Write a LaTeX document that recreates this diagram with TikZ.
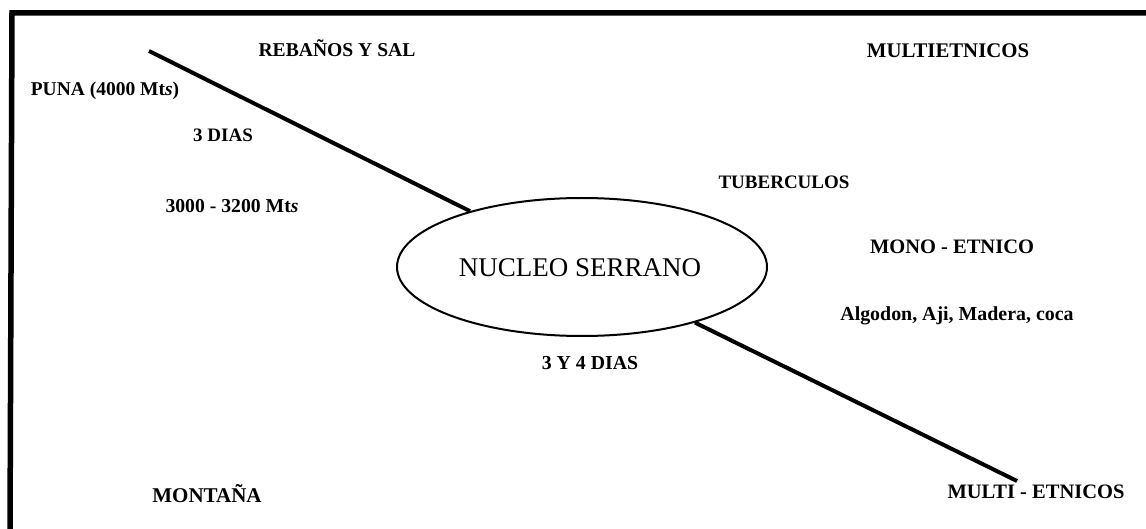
\documentclass[tikz,border=0pt]{standalone}
\usepackage{fontspec}
\setmainfont{Liberation Serif}
\usetikzlibrary{shapes.geometric}
\begin{document}
\begin{tikzpicture}[x=1pt,y=-1pt,
  lbl/.style={anchor=base,inner sep=0pt,font=\fontsize{#1}{#1}\selectfont\bfseries},
  lbl/.default=19,
  route/.style={line width=4pt},
  frame/.style={line width=5.5pt}]
\useasboundingbox (0,0) rectangle (1146,529);
\fill[white] (0,0) rectangle (1146,529);
% frame (top and left edges)
\coordinate (fTL) at (12,13);
\coordinate (fTR) at (1150,13);
\coordinate (fBL) at (10,533);
\draw[frame] (fTR) -- (fTL) -- (fBL);
% central ellipse
\node[ellipse,draw,line width=2pt,minimum width=370pt,minimum height=138pt,inner sep=0pt]
  (nucleo) at (582,267) {};
\node[anchor=base,inner sep=0pt,font=\fontsize{27}{27}\selectfont] (ntext) at (580,277) {NUCLEO SERRANO};
% routes
\coordinate (pStart) at (149,51);
\coordinate (mEnd) at (1017,481);
\draw[route] (pStart) -- (nucleo);
\draw[route] (nucleo) -- (mEnd);
% labels
\node[lbl=19.6] (rebanos) at (337,57) {REBAÑOS Y SAL};
\node[lbl=19.5] (puna) at (105,96) {PUNA (4000 Mt\textit{s})};
\node[lbl] (dias3) at (223,142) {3 DIAS};
\node[lbl=19.7] (alt) at (232,213) {3000 - 3200 Mt\textit{s}};
\node[lbl=20.8] (multi1) at (948,58) {MULTIETNICOS};
\node[lbl] (tuber) at (784,189) {TUBERCULOS};
\node[lbl=20.5] (mono) at (952,254) {MONO - ETNICO};
\node[lbl=19.9] (algodon) at (957,320) {Algodon, Aji, Madera, coca};
\node[lbl=19.8] (dias34) at (590,370) {3 Y 4 DIAS};
\node[lbl=21] (montana) at (207,502) {MONTAÑA};
\node[lbl=20.5] (multi2) at (1036,498) {MULTI - ETNICOS};
\end{tikzpicture}
\end{document}
